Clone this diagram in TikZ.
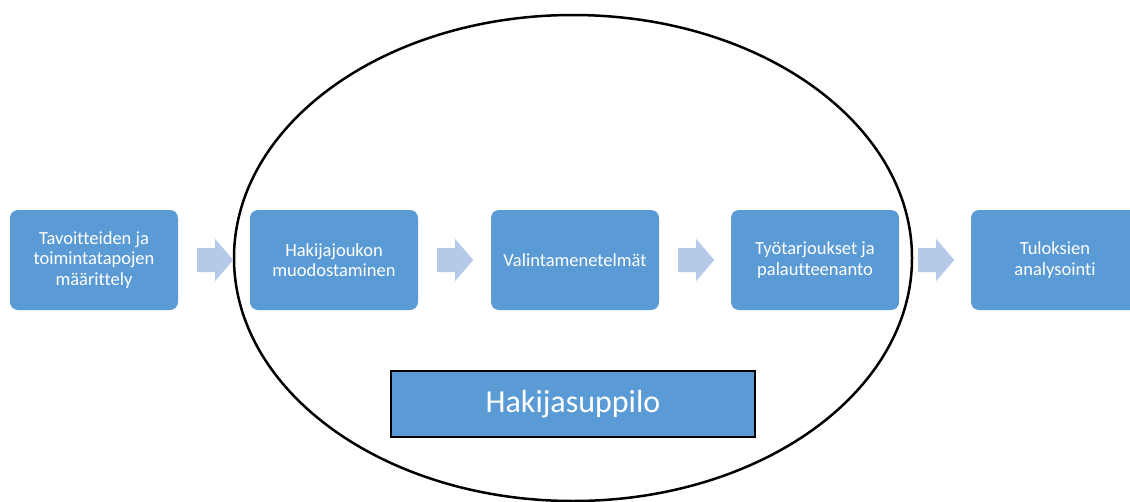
\documentclass[tikz,border=0pt]{standalone}
\usepackage{fontspec}
\setmainfont[Ligatures=NoCommon]{Carlito}
\usetikzlibrary{shapes.geometric,calc}
\definecolor{boxblue}{RGB}{91,155,213}
\definecolor{arrowblue}{RGB}{181,201,232}
\tikzset{
  stepbox/.style={rectangle, rounded corners=8pt, fill=boxblue, text=white,
    minimum width=168pt, minimum height=100pt, inner sep=4pt, align=center,
    font=\fontsize{18.5}{20.5}\selectfont},
  funnelbox/.style={rectangle, fill=boxblue, draw=black, line width=2pt, text=white,
    minimum width=364pt, minimum height=66pt, font=\fontsize{32}{38}\selectfont},
  ring/.style={ellipse, draw=black, line width=2.5pt, minimum width=678pt,
    minimum height=486pt, inner sep=0pt},
  flowarrow/.style={fill=arrowblue}
}
\newcommand{\flowarr}[1]{%
  \fill[flowarrow] ($(#1.east)+(19,-12)$) -- ++(18,0) -- ++(0,-9) -- ++(18,21)
    -- ++(-18,21) -- ++(0,-9) -- ++(-18,0) -- cycle;}
\begin{document}
\begin{tikzpicture}[x=1pt,y=-1pt]
\useasboundingbox (0,0) rectangle (1130,501);
\node[ring] (ring) at (573,258) {};
\node[stepbox] (b1) at (94,260) {Tavoitteiden ja\\toimintatapojen\\määrittely};
\node[stepbox] (b2) at (334,260) {Hakijajoukon\\muodostaminen};
\node[stepbox] (b3) at (575,260) {Valintamenetelmät};
\node[stepbox] (b4) at (815,260) {Työtarjoukset ja\\palautteenanto};
\node[stepbox] (b5) at (1055,260) {Tuloksien\\analysointi};
\flowarr{b1}
\flowarr{b2}
\flowarr{b3}
\flowarr{b4}
\node[funnelbox] (f) at (573,404) {Hakijasuppilo};
\end{tikzpicture}
\end{document}
